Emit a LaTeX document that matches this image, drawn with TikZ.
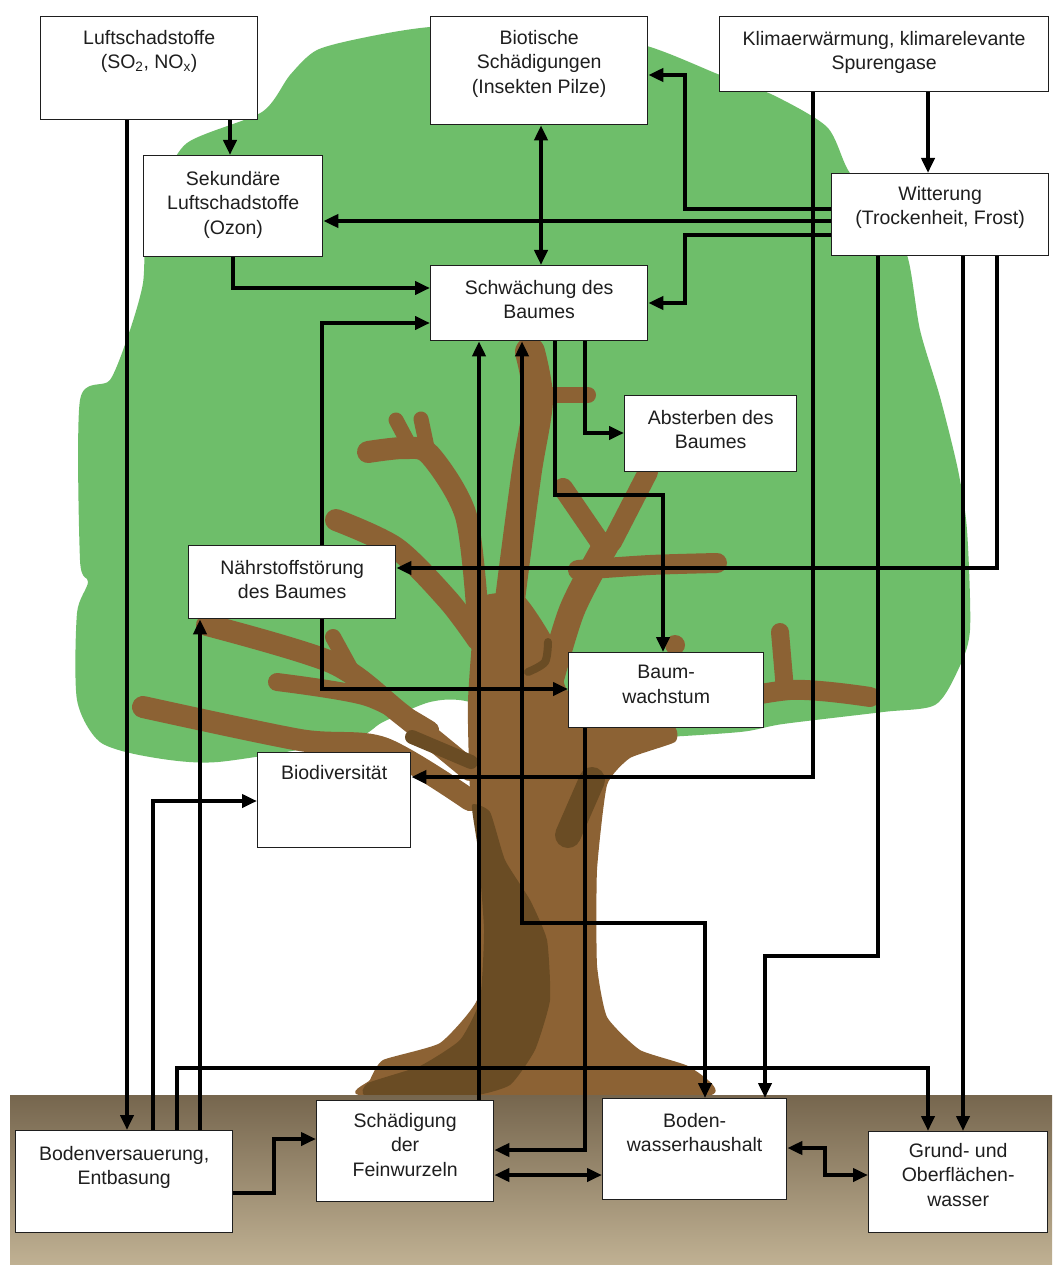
\documentclass[tikz,border=0pt]{standalone}
\usepackage{fontspec}
\setmainfont{Liberation Sans}
\usetikzlibrary{arrows.meta,calc}
\definecolor{leaf}{RGB}{110,190,106}
\definecolor{bark}{RGB}{140,98,52}
\definecolor{barkdark}{RGB}{106,76,36}
\definecolor{soiltop}{RGB}{118,102,78}
\definecolor{soilbot}{RGB}{192,177,147}
\definecolor{ink}{RGB}{30,30,30}
\begin{document}
\begin{tikzpicture}[x=1pt,y=-1pt,
  box/.style={draw=ink, line width=1.3pt, fill=white, inner sep=0pt, anchor=north west},
  txt/.style={anchor=north, align=center, inner sep=0pt, text=ink, font=\fontsize{19.5}{24.5}\selectfont},
  arr/.style={line width=4.2pt, draw=black, -{Triangle[length=15pt,width=13pt]}},
  darr/.style={line width=4.2pt, draw=black, {Triangle[length=15pt,width=13pt]}-{Triangle[length=15pt,width=13pt]}},
  branch/.style={draw=bark, line cap=round, line join=round},
  shadow/.style={draw=barkdark, line cap=round, line join=round}]
\useasboundingbox (0,0) rectangle (1052,1265);
\fill[white] (0,0) rectangle (1052,1265);

% ---------- tree crown ----------
\fill[leaf] plot[smooth cycle, tension=0.45] coordinates {
 (187,143) (262,112) (290,75) (317,50) (367,37) (430,27) (540,22) (647,46)
 (720,75) (773,95) (827,127) (848,170) (880,215) (907,255) (920,330) (940,397)
 (958,470) (967,530) (970,630) (958,670) (935,705) (883,712) (783,724) (740,732)
 (640,738) (560,735) (470,702) (430,702) (383,722) (350,740) (218,762) (150,757)
 (100,742) (77,700) (77,613) (88,582) (80,560) (80,400) (110,380) (130,330)
 (143,283) (146,230) (160,190)};

% ---------- branches ----------
\draw[branch, line width=30pt] plot[smooth] coordinates {(505,640) (515,560) (527,470) (538,400) (530,352)};
\draw[branch, line width=16pt] (530,395) -- (588,395);
\draw[branch, line width=22pt] plot[smooth] coordinates {(478,620) (466,516) (430,455) (405,448) (368,452)};
\draw[branch, line width=15pt] (412,450) -- (396,420);
\draw[branch, line width=15pt] (428,452) -- (421,419);
\draw[branch, line width=22pt] plot[smooth] coordinates {(336,520) (396,548) (448,600) (478,640)};
\draw[branch, line width=22pt] plot[smooth] coordinates {(207,625) (333,663) (400,713) (470,770)};
\draw[branch, line width=18pt] plot[smooth] coordinates {(277,682) (367,697) (430,730)};
\draw[branch, line width=22pt] plot[smooth] coordinates {(143,707) (300,740) (383,748) (470,800)};
\draw[branch, line width=16pt] (333,637) -- (350,668);
\draw[branch, line width=20pt] (563,488) -- (602,545);
\draw[branch, line width=20pt] (648,472) -- (612,542);
\draw[branch, line width=26pt] plot[smooth] coordinates {(606,545) (572,610) (548,690)};
\draw[branch, line width=20pt] plot[smooth] coordinates {(578,570) (650,565) (717,563)};
\draw[branch, line width=20pt] plot[smooth] coordinates {(690,708) (790,690) (870,697)};
\draw[branch, line width=18pt] (785,690) -- (780,632);
\fill[bark] (675,645) circle (10);

% ---------- trunk ----------
\fill[bark] plot[smooth cycle, tension=0.3] coordinates {
 (478,600) (522,595) (553,640) (567,690) (610,718) (673,726) (675,742) (630,758)
 (607,785) (597,870) (597,965) (607,1017) (640,1050) (690,1067) (706,1096)
 (367,1096) (370,1080) (383,1060) (440,1043) (477,1000) (480,933) (477,833)
 (470,790) (468,700)};
\fill[barkdark] plot[smooth cycle, tension=0.3] coordinates {
 (472,805) (490,812) (505,860) (530,900) (547,940) (550,1000) (535,1050)
 (510,1085) (470,1096) (367,1096) (368,1083) (420,1066) (460,1040) (480,1000)
 (484,930) (478,850)};
\draw[shadow, line width=26pt] (568,835) -- (592,780);
\draw[shadow, line width=14pt] (412,737) -- (471,762);
\draw[shadow, line width=8pt] plot[smooth] coordinates {(548,642) (545,662) (528,672)};

% ---------- ground ----------
\shade[top color=soiltop, bottom color=soilbot] (10,1095) rectangle (1052,1265);

% ---------- boxes ----------
\node[box, minimum width=217, minimum height=103] (luft) at (40,16) {};
\node[box, minimum width=217, minimum height=108] (bio) at (430,16) {};
\node[box, minimum width=329, minimum height=75] (klima) at (719,16) {};
\node[box, minimum width=179, minimum height=101] (sek) at (143,155) {};
\node[box, minimum width=217, minimum height=82] (witt) at (831,173) {};
\node[box, minimum width=217, minimum height=75] (schw) at (430,265) {};
\node[box, minimum width=172, minimum height=76] (abst) at (624,395) {};
\node[box, minimum width=207, minimum height=73] (naehr) at (188,545) {};
\node[box, minimum width=195, minimum height=75] (baum) at (568,652) {};
\node[box, minimum width=153, minimum height=95] (biodiv) at (257,752) {};
\node[box, minimum width=217, minimum height=102] (bodenv) at (15,1130) {};
\node[box, minimum width=177, minimum height=101] (schaed) at (316,1100) {};
\node[box, minimum width=184, minimum height=101] (bwh) at (602,1098) {};
\node[box, minimum width=179, minimum height=101] (grund) at (868,1131) {};

\node[txt] (luftT) at ($(luft.north)+(0,14)$) {Luftschadstoffe\\(SO\textsubscript{2}, NO\textsubscript{x})};
\node[txt] (bioT) at ($(bio.north)+(0,14)$) {Biotische\\Schädigungen\\(Insekten Pilze)};
\node[txt] (klimaT) at ($(klima.north)+(0,15)$) {Klimaerwärmung, klimarelevante\\Spurengase};
\node[txt] (sekT) at ($(sek.north)+(0,16)$) {Sekundäre\\Luftschadstoffe\\(Ozon)};
\node[txt] (wittT) at ($(witt.north)+(0,13)$) {Witterung\\(Trockenheit, Frost)};
\node[txt] (schwT) at ($(schw.north)+(0,15)$) {Schwächung des\\Baumes};
\node[txt] (abstT) at ($(abst.north)+(0,15)$) {Absterben des\\Baumes};
\node[txt] (naehrT) at ($(naehr.north)+(0,15)$) {Nährstoffstörung\\des Baumes};
\node[txt] (baumT) at ($(baum.north)+(0,13)$) {Baum-\\wachstum};
\node[txt] (biodivT) at ($(biodiv.north)+(0,13)$) {Biodiversität};
\node[txt] (bodenvT) at ($(bodenv.north)+(0,16)$) {Bodenversauerung,\\Entbasung};
\node[txt] (schaedT) at ($(schaed.north)+(0,13)$) {Schädigung\\der\\Feinwurzeln};
\node[txt] (bwhT) at ($(bwh.north)+(0,15)$) {Boden-\\wasserhaushalt};
\node[txt] (grundT) at ($(grund.north)+(0,12)$) {Grund- und\\Oberflächen-\\wasser};

% ---------- routing points ----------
\coordinate (cA) at (127,0);
\coordinate (cB) at (230,0);
\coordinate (cC) at (233,288);
\coordinate (cD1) at (322,323);
\coordinate (cD2) at (322,689);
\coordinate (cE) at (541,0);
\coordinate (cF) at (928,0);
\coordinate (cG) at (813,777);
\coordinate (hA) at (685,209);
\coordinate (hB) at (685,75);
\coordinate (cI) at (0,221);
\coordinate (jA) at (685,235);
\coordinate (jB) at (685,303);
\coordinate (kA) at (878,956);
\coordinate (kB) at (765,956);
\coordinate (cL) at (963,0);
\coordinate (cM) at (997,568);
\coordinate (cN) at (585,433);
\coordinate (oA) at (555,495);
\coordinate (oB) at (663,495);
\coordinate (cP) at (479,0);
\coordinate (qA) at (522,923);
\coordinate (qB) at (705,923);
\coordinate (cR) at (585,1150);
\coordinate (cS) at (153,801);
\coordinate (tA) at (177,1068);
\coordinate (tB) at (928,1068);
\coordinate (cU) at (200,0);
\coordinate (vA) at (274,1193);
\coordinate (vB) at (274,1139);
\coordinate (cW) at (0,1175);
\coordinate (xA) at (825,1148);
\coordinate (xB) at (825,1175);

% ---------- connectors ----------
\draw[arr] (luft.south -| cA) -- (bodenv.north -| cA);
\draw[arr] (luft.south -| cB) -- (sek.north -| cB);
\draw[arr] (sek.south -| cC) |- (schw.west |- cC);
\draw[arr] (naehr.north -| cD1) |- (schw.west |- cD1);
\draw[arr] (naehr.south -| cD2) |- (baum.west |- cD2);
\draw[darr] (bio.south -| cE) -- (schw.north -| cE);
\draw[arr] (klima.south -| cF) -- (witt.north -| cF);
\draw[arr] (klima.south -| cG) |- (biodiv.east |- cG);
\draw[arr] (witt.west |- hA) -- (hA) -- (hB) -- (bio.east |- hB);
\draw[arr] (witt.west |- cI) -- (sek.east |- cI);
\draw[arr] (witt.west |- jA) -- (jA) -- (jB) -- (schw.east |- jB);
\draw[arr] (witt.south -| kA) -- (kA) -- (kB) -- (bwh.north -| kB);
\draw[arr] (witt.south -| cL) -- (grund.north -| cL);
\draw[arr] (witt.south -| cM) |- (naehr.east |- cM);
\draw[arr] (schw.south -| cN) |- (abst.west |- cN);
\draw[arr] (schw.south -| oA) -- (oA) -- (oB) -- (baum.north -| oB);
\draw[arr] (schaed.north -| cP) -- (schw.south -| cP);
\draw[darr] (schw.south -| qA) -- (qA) -- (qB) -- (bwh.north -| qB);
\draw[arr] (baum.south -| cR) |- (schaed.east |- cR);
\draw[arr] (bodenv.north -| cS) |- (biodiv.west |- cS);
\draw[arr] (bodenv.north -| tA) -- (tA) -- (tB) -- (grund.north -| tB);
\draw[arr] (bodenv.north -| cU) -- (naehr.south -| cU);
\draw[arr] (bodenv.east |- vA) -- (vA) -- (vB) -- (schaed.west |- vB);
\draw[darr] (schaed.east |- cW) -- (bwh.west |- cW);
\draw[darr] (bwh.east |- xA) -- (xA) -- (xB) -- (grund.west |- xB);
\end{tikzpicture}
\end{document}
